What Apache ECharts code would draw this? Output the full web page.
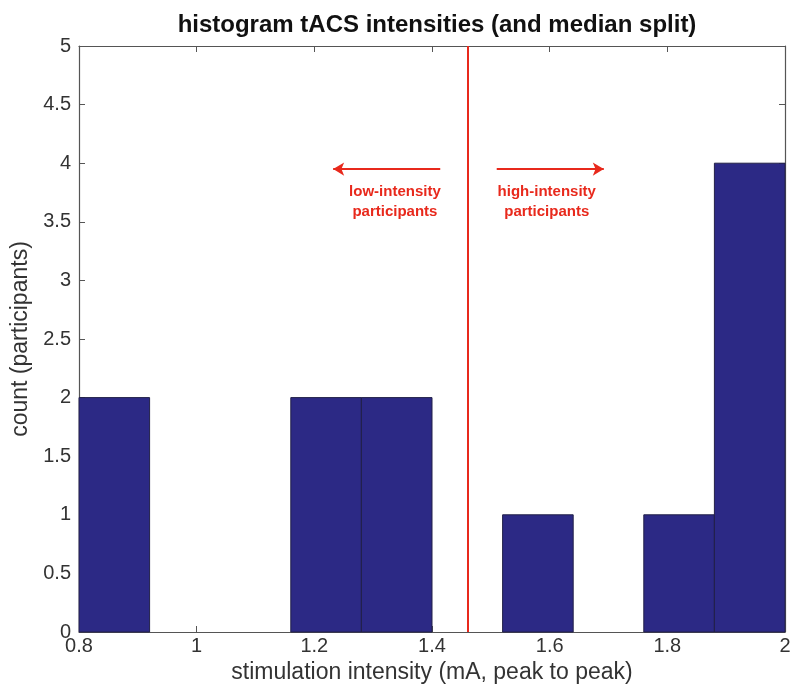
<!DOCTYPE html>
<html>
<head>
    <meta charset="UTF-8">
    <title>histogram tACS intensities</title>
    <style>
        body { margin: 0; background: #fff; }
        #chart { width: 792px; height: 687px; }
    </style>
    <script src="https://cdn.jsdelivr.net/npm/echarts@6/dist/echarts.min.js"></script>
</head>
<body>
<div id="chart"></div>
<script>
    // histogram bins (left edges), width, counts
    var binStarts = [0.8, 0.92, 1.04, 1.16, 1.28, 1.40, 1.52, 1.64, 1.76, 1.88];
    var binWidth = 0.12;
    var counts = [2, 0, 0, 2, 2, 0, 1, 0, 1, 4];
    var medianSplit = 1.461;
    // annotation arrows and texts (data coords)
    var arrows = [[1.414, 1.232], [1.510, 1.692]];
    var arrowY = 3.95;
    var notes = [[1.337, 3.67, 'low-intensity\nparticipants'], [1.595, 3.67, 'high-intensity\nparticipants']];

    var red = '#e8291c';
    var axisColor = '#555';
    var labelFont = 'Helvetica, "Liberation Sans", Arial, sans-serif';

    var chart = echarts.init(document.getElementById('chart'));

    var histData = [];
    for (var i = 0; i < binStarts.length; i++) {
        histData.push([binStarts[i], binStarts[i] + binWidth, counts[i]]);
    }

    function axisX(pos, show) {
        return {
            type: 'value', position: pos, min: 0.8, max: 2, interval: 0.2,
            axisLine: { show: true, onZero: false, lineStyle: { color: axisColor, width: 1.2 } },
            axisTick: { show: true, inside: true, length: 6, lineStyle: { color: axisColor } },
            axisLabel: { show: show, color: '#333', fontSize: 20, fontFamily: labelFont, margin: 4,
                formatter: function (v) { return String(Math.round(v * 10) / 10); } },
            splitLine: { show: false }
        };
    }
    function axisY(pos, show) {
        return {
            type: 'value', position: pos, min: 0, max: 5, interval: 0.5,
            axisLine: { show: true, onZero: false, lineStyle: { color: axisColor, width: 1.2 } },
            axisTick: { show: true, inside: true, length: 6, lineStyle: { color: axisColor } },
            axisLabel: { show: show, color: '#333', fontSize: 20, fontFamily: labelFont, margin: 8 },
            splitLine: { show: false }
        };
    }

    var xBottom = axisX('bottom', true);
    xBottom.name = 'stimulation intensity (mA, peak to peak)';
    xBottom.nameLocation = 'middle';
    xBottom.nameGap = 28;
    xBottom.nameTextStyle = { color: '#333', fontSize: 23, fontFamily: labelFont };
    var yLeft = axisY('left', true);
    yLeft.name = 'count (participants)';
    yLeft.nameLocation = 'middle';
    yLeft.nameGap = 47;
    yLeft.nameTextStyle = { color: '#333', fontSize: 23, fontFamily: labelFont };

    var notesData = notes.map(function (n) {
        return { value: [n[0], n[1]], label: { formatter: n[2] } };
    });

    var option = {
        backgroundColor: '#fff',
        animation: false,
        title: {
            text: 'histogram tACS intensities (and median split)',
            left: 432, top: 8, textAlign: 'center',
            textStyle: { fontSize: 24, fontWeight: 'bold', color: '#111', fontFamily: labelFont }
        },
        grid: { left: 79, right: 7, top: 46, bottom: 55, outerBoundsMode: 'none', containLabel: false },
        xAxis: [xBottom, axisX('top', false)],
        yAxis: [yLeft, axisY('right', false)],
        series: [
            {
                type: 'custom',
                data: histData,
                renderItem: function (params, api) {
                    if (api.value(2) <= 0) return;
                    var p0 = api.coord([api.value(0), api.value(2)]);
                    var p1 = api.coord([api.value(1), 0]);
                    return {
                        type: 'rect',
                        shape: { x: p0[0], y: p0[1], width: p1[0] - p0[0], height: p1[1] - p0[1] },
                        style: { fill: '#2c2985', stroke: '#222048', lineWidth: 1 }
                    };
                },
                encode: { x: [0, 1], y: 2 },
                z: 2
            },
            {
                type: 'line',
                data: [],
                markLine: {
                    silent: true,
                    symbol: ['none', 'none'],
                    label: { show: false },
                    lineStyle: { color: red, width: 2, type: 'solid' },
                    data: [
                        [{ coord: [medianSplit, 0] }, { coord: [medianSplit, 5] }]
                    ]
                },
                z: 5
            },
            {
                type: 'line',
                data: [],
                markLine: {
                    silent: true,
                    symbol: ['none', 'arrow'],
                    symbolSize: [10, 11],
                    lineStyle: { color: red, width: 2, type: 'solid' },
                    label: { show: false },
                    data: arrows.map(function (a) {
                        return [{ coord: [a[0], arrowY] }, { coord: [a[1], arrowY] }];
                    })
                },
                z: 5
            },
            {
                type: 'scatter',
                symbolSize: 1,
                silent: true,
                data: notesData,
                itemStyle: { opacity: 0 },
                label: {
                    show: true, position: 'inside', color: red, fontSize: 15, fontWeight: 'bold',
                    fontFamily: labelFont, lineHeight: 20, align: 'center', verticalAlign: 'middle',
                    opacity: 1
                },
                z: 6
            }
        ]
    };
    chart.setOption(option);
</script>
</body>
</html>
